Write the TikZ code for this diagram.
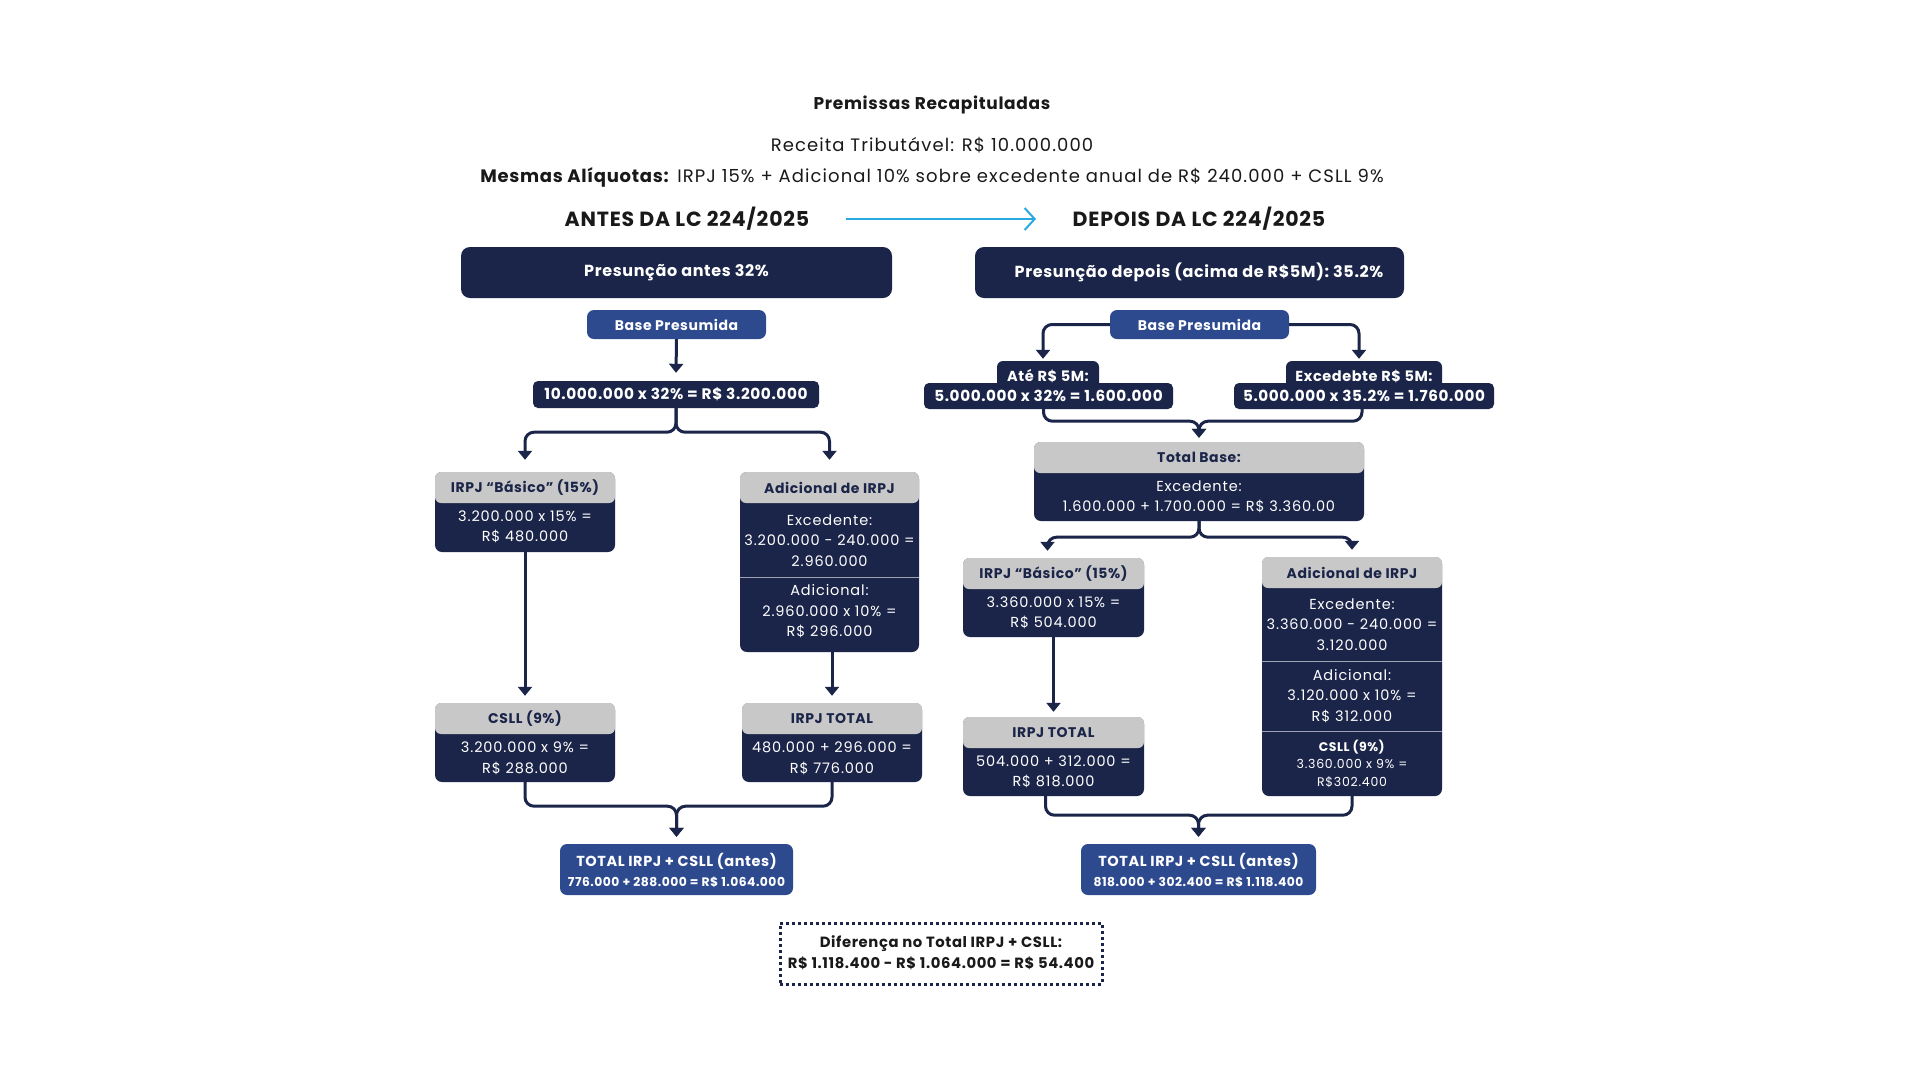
\documentclass[tikz,border=0pt]{standalone}
\usepackage{fontspec}
\setmainfont{Poppins}[LetterSpace=6,BoldFeatures={LetterSpace=4}]
\usetikzlibrary{arrows.meta,calc}
\definecolor{navy}{HTML}{1B2549}
\definecolor{midblue}{HTML}{2E4A8F}
\definecolor{hdrgrey}{HTML}{C8C8C8}
\definecolor{skyarrow}{HTML}{29A9E1}
\definecolor{sepgrey}{HTML}{9EA3B3}
\newcommand\myfs[2]{\fontsize{#1}{#2}\selectfont}
\tikzset{
  card/.style={fill=navy, rounded corners=7pt, inner sep=0pt},
  bluecard/.style={fill=midblue, rounded corners=7pt, inner sep=0pt},
  hdr/.style={fill=hdrgrey, rounded corners=6pt, inner sep=0pt, text=navy, font=\bfseries\myfs{14}{16}},
  bodyt/.style={text=white, align=center, inner sep=0pt, font=\myfs{14.5}{20.5}},
  whitebold/.style={text=white, align=center, inner sep=0pt, font=\bfseries\myfs{14.5}{17}},
  sepline/.style={draw=sepgrey, line width=1.5pt},
  conn/.style={draw=navy, line width=3pt, rounded corners=9pt, -{Triangle[width=14pt,length=9pt]}},
  titletxt/.style={text=black!90, inner sep=0pt},
}
\begin{document}
\begin{tikzpicture}[x=1pt,y=-1pt]
\useasboundingbox[fill=white] (0,0) rectangle (1920,1080);

% ---------- header texts ----------
\node[titletxt, font=\bfseries\myfs{17}{20}] (t1) at (932,105) {Premissas Recapituladas};
\node[titletxt, font=\myfs{18}{20}] (t2) at (932,145) {Receita Tributável: R\$ 10.000.000};
\node[titletxt, font=\myfs{18}{20}] (t3) at (932,177) {\textbf{Mesmas Alíquotas:} IRPJ 15\% + Adicional 10\% sobre excedente anual de R\$ 240.000 + CSLL 9\%};
\node[titletxt, font=\bfseries\myfs{20.5}{22}] (antes) at (687,219) {ANTES DA LC 224/2025};
\node[titletxt, font=\bfseries\myfs{20.5}{22}] (depois) at (1199,219) {DEPOIS DA LC 224/2025};
\coordinate (arS) at (846,219);
\coordinate (arE) at (1036,219);
\draw[skyarrow, line width=2pt, -{Straight Barb[width=22pt,length=10pt,line width=2pt]}] (arS) -- (arE);

% ---------- LEFT COLUMN ----------
\node[card, rounded corners=9pt, minimum width=431pt, minimum height=51pt, text=white, font=\bfseries\myfs{16}{18}] (preA) at (676.5,272.5) {Presunção antes 32\%};
\node[bluecard, minimum width=179pt, minimum height=29pt, text=white, font=\bfseries\myfs{14}{16}] (bpA) at (676.5,324.5) {Base Presumida};
\node[card, rounded corners=5pt, minimum width=286pt, minimum height=27pt, text=white, font=\bfseries\myfs{15.3}{17}] (fA) at (676,394.5) {10.000.000 x 32\% = R\$ 3.200.000};

% IRPJ basico
\node[card, minimum width=180pt, minimum height=80pt] (basA) at (525,512) {};
\node[hdr, minimum width=180pt, minimum height=31pt, anchor=north] (basAh) at (basA.north) {IRPJ “Básico” (15\%)};
\node[bodyt] (basAt) at (525,527) {3.200.000 x 15\% =\\R\$ 480.000};

% Adicional de IRPJ
\node[card, minimum width=179pt, minimum height=180pt] (adiA) at (829.5,562) {};
\node[hdr, minimum width=179pt, minimum height=31pt, anchor=north] (adiAh) at (adiA.north) {Adicional de IRPJ};
\node[bodyt] (adiAt1) at (829.5,540.5) {Excedente:\\3.200.000 - 240.000 =\\2.960.000};
\draw[sepline] (740,577.5) -- (919,577.5);
\node[bodyt] (adiAt2) at (829.5,611.5) {Adicional:\\2.960.000 x 10\% =\\R\$ 296.000};

% CSLL
\node[card, minimum width=180pt, minimum height=79pt] (csA) at (525,742.5) {};
\node[hdr, minimum width=180pt, minimum height=31pt, anchor=north] (csAh) at (csA.north) {CSLL (9\%)};
\node[bodyt] (csAt) at (525,758.5) {3.200.000 x 9\% =\\R\$ 288.000};

% IRPJ TOTAL
\node[card, minimum width=180pt, minimum height=79pt] (itA) at (832,742.5) {};
\node[hdr, minimum width=180pt, minimum height=31pt, anchor=north] (itAh) at (itA.north) {IRPJ TOTAL};
\node[bodyt] (itAt) at (832,758.5) {480.000 + 296.000 =\\R\$ 776.000};

% total antes
\node[bluecard, minimum width=233pt, minimum height=51pt] (totA) at (676.5,869.5) {};
\node[whitebold] (totAt1) at (676.5,861) {TOTAL IRPJ + CSLL (antes)};
\node[whitebold, font=\bfseries\myfs{12.3}{13}] (totAt2) at (676.5,882) {776.000 + 288.000 = R\$ 1.064.000};

% left connectors
\draw[conn] (bpA.south) -- ([yshift=8pt]fA.north);
\draw[conn] (fA.south) -- ++(0,24) -| ([yshift=12pt]basA.north);
\draw[conn] (fA.south) -- ++(0,24) -| ([yshift=12pt]adiA.north);
\draw[conn] (basA.south) -- ([yshift=7pt]csA.north);
\draw[conn] (adiA.south -| itA.north) -- ([yshift=7pt]itA.north);
\draw[conn] (csA.south) -- ++(0,24) -| ([yshift=7pt]totA.north);
\draw[conn] (itA.south) -- ++(0,24) -| ([yshift=7pt]totA.north);

% ---------- RIGHT COLUMN ----------
\node[card, rounded corners=9pt, minimum width=429pt, minimum height=51pt, text=white, font=\bfseries\myfs{16}{18}] (preB) at (1189.5,272.5) {\hspace*{19pt}Presunção depois (acima de R\$5M): 35.2\%};
\node[bluecard, minimum width=179pt, minimum height=29pt, text=white, font=\bfseries\myfs{14}{16}] (bpB) at (1199.5,324.5) {Base Presumida};

\node[card, rounded corners=6pt, minimum width=102pt, minimum height=28pt] (tab1) at (1048,375) {};
\node[card, rounded corners=5pt, minimum width=249pt, minimum height=26pt, text=white, font=\bfseries\myfs{15.2}{17}] (f1) at (1048.5,396) {5.000.000 x 32\% = 1.600.000};
\node[whitebold] (tab1t) at (1048,376) {Até R\$ 5M:};

\node[card, rounded corners=6pt, minimum width=156pt, minimum height=28pt] (tab2) at (1364,375) {};
\node[card, rounded corners=5pt, minimum width=260pt, minimum height=26pt, text=white, font=\bfseries\myfs{15.2}{17}] (f2) at (1364,396) {5.000.000 x 35.2\% = 1.760.000};
\node[whitebold] (tab2t) at (1364,376) {Excedebte R\$ 5M:};

% Total base
\node[card, minimum width=330pt, minimum height=79pt] (tb) at (1199,481.5) {};
\node[hdr, minimum width=330pt, minimum height=31pt, anchor=north] (tbh) at (tb.north) {Total Base:};
\node[bodyt] (tbt) at (1199,497) {Excedente:\\1.600.000 + 1.700.000 = R\$ 3.360.00};

% IRPJ basico right
\node[card, minimum width=181pt, minimum height=79pt] (basB) at (1053.5,597.5) {};
\node[hdr, minimum width=181pt, minimum height=31pt, anchor=north] (basBh) at (basB.north) {IRPJ “Básico” (15\%)};
\node[bodyt] (basBt) at (1053.5,613) {3.360.000 x 15\% =\\R\$ 504.000};

% Adicional right
\node[card, minimum width=180pt, minimum height=239pt] (adiB) at (1352,676.5) {};
\node[hdr, minimum width=180pt, minimum height=31pt, anchor=north] (adiBh) at (adiB.north) {Adicional de IRPJ};
\node[bodyt] (adiBt1) at (1352,624.5) {Excedente:\\3.360.000 - 240.000 =\\3.120.000};
\draw[sepline] (1262,661.5) -- (1442,661.5);
\node[bodyt] (adiBt2) at (1352,696) {Adicional:\\3.120.000 x 10\% =\\R\$ 312.000};
\draw[sepline] (1262,731.5) -- (1442,731.5);
\node[text=white, align=center, inner sep=0pt, font=\myfs{12.5}{17.5}] (adiBt3) at (1352,763.5) {\textbf{CSLL (9\%)}\\3.360.000 x 9\% =\\R\$302.400};

% IRPJ TOTAL right
\node[card, minimum width=181pt, minimum height=79pt] (itB) at (1053.5,756.5) {};
\node[hdr, minimum width=181pt, minimum height=31pt, anchor=north] (itBh) at (itB.north) {IRPJ TOTAL};
\node[bodyt] (itBt) at (1053.5,772) {504.000 + 312.000 =\\R\$ 818.000};

% total depois
\node[bluecard, minimum width=235pt, minimum height=51pt] (totB) at (1198.5,869.5) {};
\node[whitebold] (totBt1) at (1198.5,861) {TOTAL IRPJ + CSLL (antes)};
\node[whitebold, font=\bfseries\myfs{12.3}{13}] (totBt2) at (1198.5,882) {818.000 + 302.400 = R\$ 1.118.400};

% right connectors
\draw[conn] (bpB.west) -| ([yshift=2pt,xshift=-5pt]tab1.north);
\draw[conn] (bpB.east) -| ([yshift=2pt,xshift=-5pt]tab2.north);
\draw[conn] ([xshift=-5pt]f1.south) -- ++(0,12) -| ([yshift=4pt]tb.north);
\draw[conn] ([xshift=-2pt]f2.south) -- ++(0,12) -| ([yshift=4pt]tb.north);
\draw[conn] (tb.south) -- ++(0,16) -| ([yshift=7pt,xshift=-6pt]basB.north);
\draw[conn] (tb.south) -- ++(0,16) -| ([yshift=7pt]adiB.north);
\draw[conn] (basB.south) -- ([yshift=5pt]itB.north);
\draw[conn] ([xshift=-8pt]itB.south) -- ++(0,19) -| ([yshift=7pt]totB.north);
\draw[conn] (adiB.south) -- ++(0,19) -| ([yshift=7pt]totB.north);

% ---------- difference box ----------
\node[draw=navy, line width=3pt, dash pattern=on 3pt off 3pt, minimum width=322pt, minimum height=61pt, inner sep=0pt] (diff) at (941,953.5) {};
\node[titletxt, align=center, font=\bfseries\myfs{14.8}{21}] (difft) at (941,953) {Diferença no Total IRPJ + CSLL:\\R\$ 1.118.400 - R\$ 1.064.000 = R\$ 54.400};

\end{tikzpicture}
\end{document}
